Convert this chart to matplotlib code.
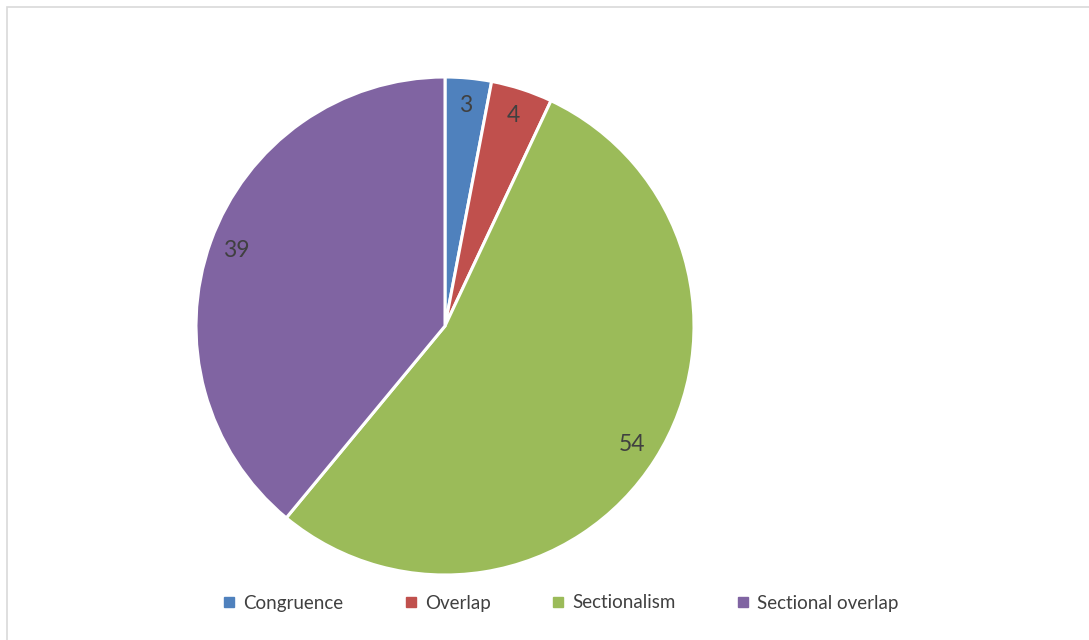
import matplotlib.pyplot as plt
from matplotlib.lines import Line2D
from matplotlib.patches import Rectangle

labels = ['Congruence', 'Overlap', 'Sectionalism', 'Sectional overlap']
values = [3, 4, 54, 39]
colors = ['#4F81BD', '#C0504D', '#9BBB59', '#8064A2']

plt.rcParams['font.family'] = ['Lato', 'DejaVu Sans']
text_color = '#404040'

W, H = 1089, 640
fig = plt.figure(figsize=(W / 100, H / 100), dpi=100)

# chart area border (runs off the right and bottom edges)
fig.add_artist(Rectangle((7 / W, -0.05), 1.2, (H - 7) / H + 0.05,
                         transform=fig.transFigure, fill=False,
                         edgecolor='#d9d9d9', linewidth=1.2))

cx, cy, r = 445, 326, 249
ax = fig.add_axes([(cx - r) / W, (H - cy - r) / H, 2 * r / W, 2 * r / H])
wedges, texts = ax.pie(values, colors=colors, startangle=90, counterclock=False,
                       labels=[str(v) for v in values], labeldistance=0.89,
                       wedgeprops={'edgecolor': 'white', 'linewidth': 2.2},
                       textprops={'color': text_color, 'fontsize': 16.5})
for t in texts:
    t.set_horizontalalignment('center')
    t.set_verticalalignment('center')
ax.set_xlim(-1, 1)
ax.set_ylim(-1, 1)

handles = [Line2D([], [], marker='s', linestyle='none', markersize=6.5,
                  markerfacecolor=c, markeredgecolor=c) for c in colors]
fig.legend(handles, labels, loc='center', bbox_to_anchor=(561 / W, 1 - 603 / H),
           ncol=4, frameon=False, fontsize=13.5, labelcolor=text_color,
           handlelength=0.6, handletextpad=0.45, columnspacing=3.3)

fig.savefig('out.png', dpi=100)
